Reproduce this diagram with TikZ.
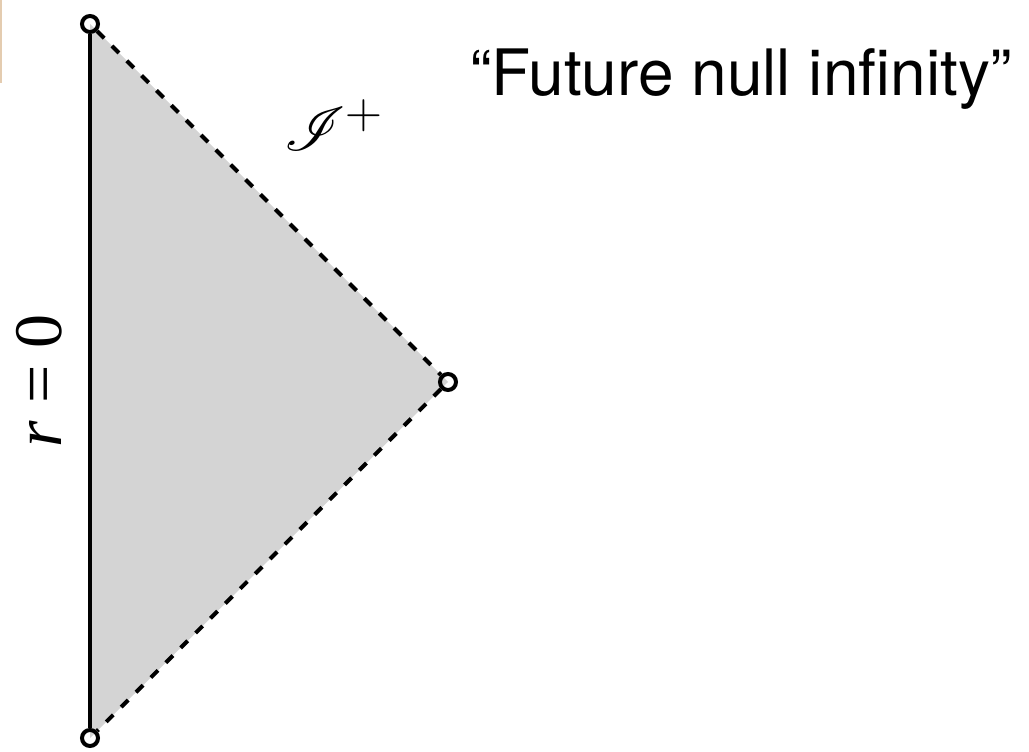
\documentclass[tikz,border=0pt]{standalone}
\usepackage{fontspec}
\usepackage{mathrsfs}
\usepackage{graphicx}
\setmainfont{TeX Gyre Heros}
\newfontfamily\timesf{Liberation Serif}
\definecolor{regiongray}{RGB}{212,212,212}
\definecolor{slidetan}{RGB}{228,204,176}
\tikzset{
  endpt/.style={circle,draw=black,line width=3pt,minimum size=12pt,inner sep=0pt},
  boundary/.style={draw=black,line width=3pt},
  nullbound/.style={draw=black,line width=3pt,dash pattern=on 7.5pt off 8.25pt},
}
\begin{document}
\begin{tikzpicture}[x=0.75pt,y=-0.75pt]
\useasboundingbox (0,0) rectangle (1029,752);
\fill[slidetan] (0,0) rectangle (2,83);
\coordinate (tc) at (90,24);
\coordinate (rc) at (448,382);
\coordinate (bc) at (90,738);
\fill[regiongray] (tc) -- (rc) -- (bc) -- cycle;
\node[endpt] (top) at (tc) {};
\node[endpt] (right) at (rc) {};
\node[endpt] (bot) at (bc) {};
\draw[boundary] (top) -- (bot);
\draw[nullbound] (top) -- (right);
\draw[nullbound] (right) -- (bot);
\node[anchor=base west,inner sep=0pt,font=\fontsize{48}{52}\selectfont] (title) at (470,96) {“Future null infinity”};
\node[inner sep=0pt] (scri) at (334,125) {\scalebox{1.85}{\Huge$\mathscr{I}^{+}$}};
\node[anchor=base,rotate=90,inner sep=0pt,font=\fontsize{51}{55}\selectfont\timesf] (rzero) at (61,381) {\textit{r} = 0};
\end{tikzpicture}
\end{document}
